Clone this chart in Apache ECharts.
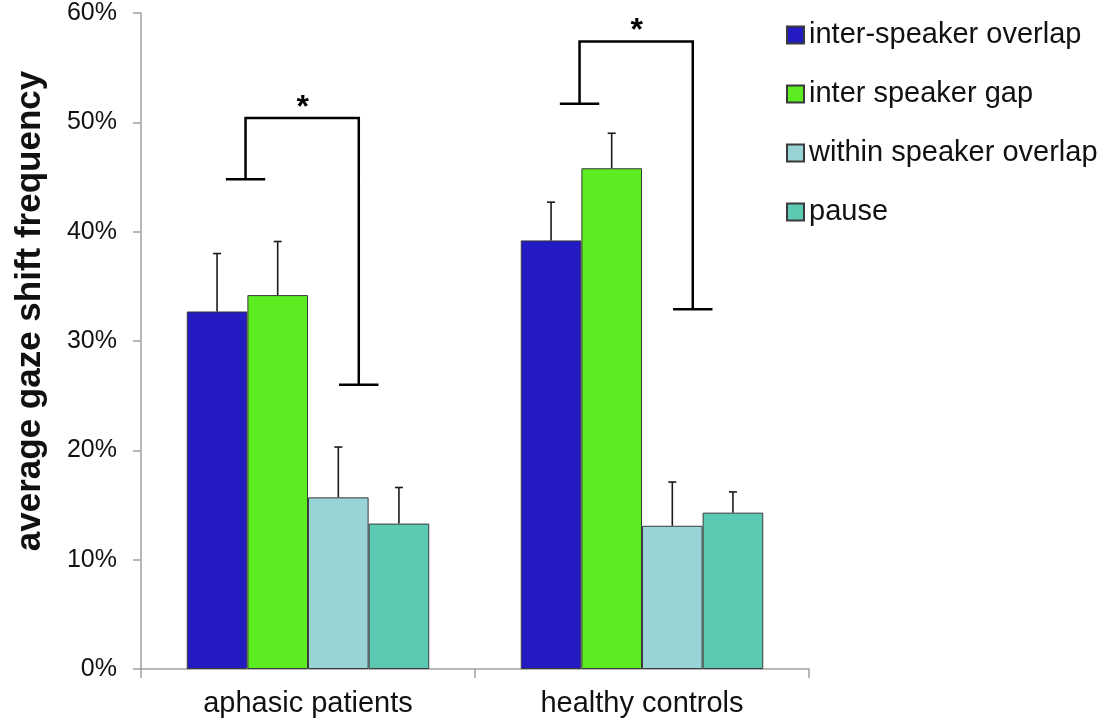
<!DOCTYPE html>
<html>
<head><meta charset="utf-8"></head>
<script type="text/javascript" src="https://cdn.jsdelivr.net/npm/echarts@6/dist/echarts.min.js"></script>
<body style="margin:0;background-color:#fff;">
    <div id="main" style="width:1109px;height:720px;"></div>
</body>

<script type="text/javascript">
// groups on the x axis
var categories = ['aphasic patients', 'healthy controls']
var seriesNames = ['inter-speaker overlap', 'inter speaker gap', 'within speaker overlap', 'pause']
var seriesColors = ['#231bc1', '#5bec22', '#98d3d5', '#5ccab3']

// mean values (%)
var interOverlap = [32.7, 39.2]
var interGap = [34.2, 45.8]
var withinOverlap = [15.7, 13.1]
var pauseVals = [13.3, 14.3]

// error bar length (%), upper side only
var interOverlapErr = [5.3, 3.5]
var interGapErr = [4.9, 3.2]
var withinOverlapErr = [4.6, 4.0]
var pauseErr = [3.3, 1.9]

// significance brackets per group (%): left foot, top, right foot
var bracketLeft = [44.8, 51.7]
var bracketTop = [50.4, 57.4]
var bracketRight = [26.0, 32.9]

var yTicks = [0, 10, 20, 30, 40, 50, 60]

var means = [interOverlap, interGap, withinOverlap, pauseVals]
var errs = [interOverlapErr, interGapErr, withinOverlapErr, pauseErr]
var catGap = 0.274

var errData = []
for (var s = 0; s < means.length; s++) {
    for (var c = 0; c < categories.length; c++) {
        errData.push([c, s, means[s][c], means[s][c] + errs[s][c]])
    }
}
var bracketData = []
for (var c = 0; c < categories.length; c++) {
    bracketData.push([c, bracketLeft[c], bracketTop[c], bracketRight[c]])
}

var barSeries = []
for (var i = 0; i < means.length; i++) {
    barSeries.push({
        name: seriesNames[i],
        type: 'bar',
        data: means[i],
        barGap: '0%',
        barCategoryGap: (catGap * 100) + '%',
        itemStyle: { color: seriesColors[i], borderColor: '#3a3a3a', borderWidth: 1 },
        z: 2
    })
}

var myChart = echarts.init(document.getElementById('main'))

var option = {
    animation: false,
    textStyle: { fontFamily: 'Liberation Sans, Arial, sans-serif' },
    grid: { left: 141, right: 300, top: 13, bottom: 51 },
    legend: {
        orient: 'vertical',
        left: 786,
        top: 20,
        padding: 0,
        icon: 'rect',
        itemWidth: 17,
        itemHeight: 17,
        itemGap: 29,
        data: seriesNames,
        textStyle: { fontSize: 29, color: '#111', lineHeight: 30 }
    },
    graphic: [{
        type: 'text',
        x: 30,
        y: 311,
        rotation: Math.PI / 2,
        style: {
            text: 'average gaze shift frequency',
            font: 'bold 35px Liberation Sans, Arial, sans-serif',
            fill: '#111',
            align: 'center',
            verticalAlign: 'middle'
        }
    }],
    xAxis: {
        type: 'category',
        data: categories,
        axisLine: { lineStyle: { color: '#a0a0a0', width: 1.5 } },
        axisTick: { show: true, length: 9, lineStyle: { color: '#a0a0a0', width: 1.5 } },
        axisLabel: { fontSize: 29, color: '#111', margin: 20 }
    },
    yAxis: {
        type: 'value',
        min: 0,
        max: 60,
        interval: 10,
        axisLine: { show: true, lineStyle: { color: '#a0a0a0', width: 1.5 } },
        axisTick: { show: true, length: 8, lineStyle: { color: '#a0a0a0', width: 1.5 } },
        splitLine: { show: false },
        axisLabel: {
            fontSize: 25,
            color: '#111',
            margin: 24,
            formatter: function (v) { return yTicks.indexOf(v) >= 0 ? v + '%' : '' }
        }
    },
    series: barSeries.concat([
        {
            name: 'errors',
            type: 'custom',
            data: errData,
            encode: { x: 0, y: 2 },
            z: 3,
            clip: false,
            renderItem: function (params, api) {
                var bw = api.size([1, 0])[0]
                var barW = bw * (1 - catGap) / means.length
                var base = api.coord([api.value(0), api.value(2)])
                var top = api.coord([api.value(0), api.value(3)])
                var x = base[0] + (api.value(1) - (means.length - 1) / 2) * barW
                var st = { stroke: '#1a1a1a', lineWidth: 1.6 }
                return {
                    type: 'group',
                    children: [
                        { type: 'line', shape: { x1: x, y1: base[1], x2: x, y2: top[1] }, style: st },
                        { type: 'line', shape: { x1: x - 4, y1: top[1], x2: x + 4, y2: top[1] }, style: st }
                    ]
                }
            }
        },
        {
            name: 'brackets',
            type: 'custom',
            data: bracketData,
            encode: { x: 0, y: 2 },
            z: 4,
            clip: false,
            renderItem: function (params, api) {
                var bw = api.size([1, 0])[0]
                var cx = api.coord([api.value(0), 0])[0]
                var xl = cx - 0.187 * bw
                var xr = cx + 0.152 * bw
                var half = 0.059 * bw
                var yl = api.coord([api.value(0), api.value(1)])[1]
                var yt = api.coord([api.value(0), api.value(2)])[1]
                var yr = api.coord([api.value(0), api.value(3)])[1]
                var st = { stroke: '#000', lineWidth: 2.5, fill: null }
                return {
                    type: 'group',
                    children: [
                        { type: 'polyline', shape: { points: [[xl, yl], [xl, yt], [xr, yt], [xr, yr]] }, style: st },
                        { type: 'line', shape: { x1: xl - half, y1: yl, x2: xl + half, y2: yl }, style: st },
                        { type: 'line', shape: { x1: xr - half, y1: yr, x2: xr + half, y2: yr }, style: st },
                        {
                            type: 'text',
                            x: cx - 0.016 * bw,
                            y: yt - 10,
                            style: {
                                text: '*',
                                font: 'bold 32px Liberation Sans, Arial, sans-serif',
                                fill: '#000',
                                align: 'center',
                                verticalAlign: 'middle'
                            }
                        }
                    ]
                }
            }
        }
    ])
}

myChart.setOption(option)
</script>
</html>
